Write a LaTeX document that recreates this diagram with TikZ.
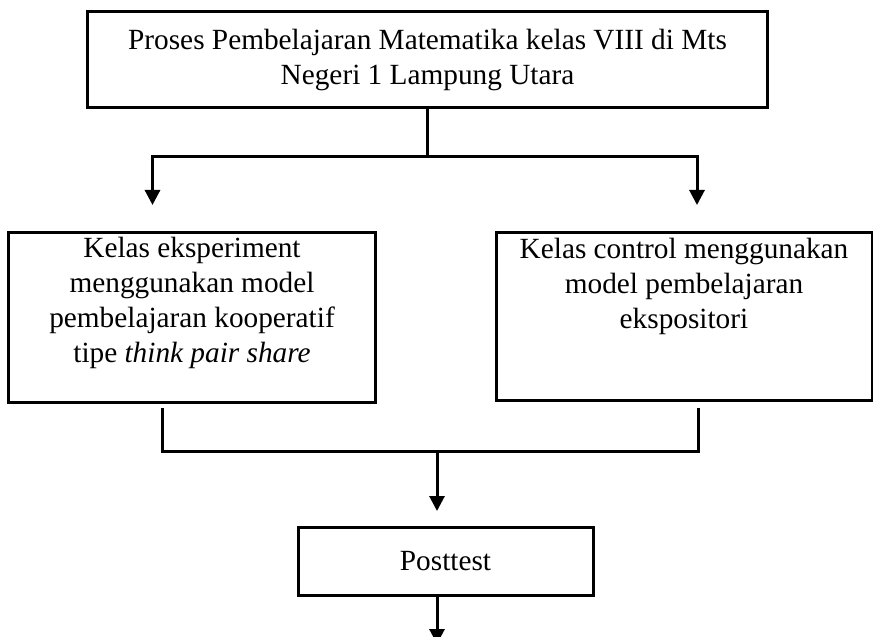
\documentclass[tikz,border=0pt]{standalone}
\usepackage{fontspec}
\setmainfont{Liberation Serif}
\usetikzlibrary{arrows.meta}
\begin{document}
\begin{tikzpicture}[x=1bp,y=-1bp,line width=3bp,
  box/.style={draw,line width=3bp,inner sep=0pt},
  txt/.style={align=center,inner sep=0pt,font=\fontsize{29.4}{35.1}\selectfont},
  arr/.style={-{Triangle[width=15bp,length=15bp]}}]
\useasboundingbox (0,0) rectangle (873,637);
% boxes
\node[box,txt,minimum width=679bp,minimum height=96bp] (top) at (427.5,60)
  {Proses Pembelajaran Matematika kelas VIII di Mts\\Negeri 1 Lampung Utara};
\node[box,minimum width=366bp,minimum height=169bp] (left) at (192,317.5) {};
\node[txt] (lefttxt) at (192,303) {Kelas eksperiment\\menggunakan model\\pembelajaran kooperatif\\tipe \textit{think pair share}};
\node[box,minimum width=376bp,minimum height=167bp] (right) at (684,316.5) {};
\node[txt] (righttxt) at (684,286) {Kelas control menggunakan\\model pembelajaran\\ekspositori};
\node[box,txt,minimum width=295bp,minimum height=68bp] (post) at (445.5,561) {Posttest};
% top connectors
\coordinate (tj) at (427.5,157);
\coordinate (j1) at (152.5,157);
\coordinate (j2) at (697,157);
\coordinate (a1) at (152.5,205);
\coordinate (a2) at (697,205);
\draw (top.south) -- (tj);
\draw ([xshift=-1.5bp]j1) -- ([xshift=1.5bp]j2);
\draw[arr] (j1) -- (a1);
\draw[arr] (j2) -- (a2);
% bottom connectors
\coordinate (s1) at (162,408);
\coordinate (s1b) at (162,451);
\coordinate (s2) at (698,408);
\coordinate (s2b) at (698,451);
\draw (s1) -- (s1b) -- (s2b) -- (s2);
\coordinate (m) at (437,451);
\coordinate (mt) at (437,511);
\draw[arr] (m) -- (mt);
\coordinate (pe) at (437,644);
\draw[arr] (m |- post.south) -- (pe);
\end{tikzpicture}
\end{document}
